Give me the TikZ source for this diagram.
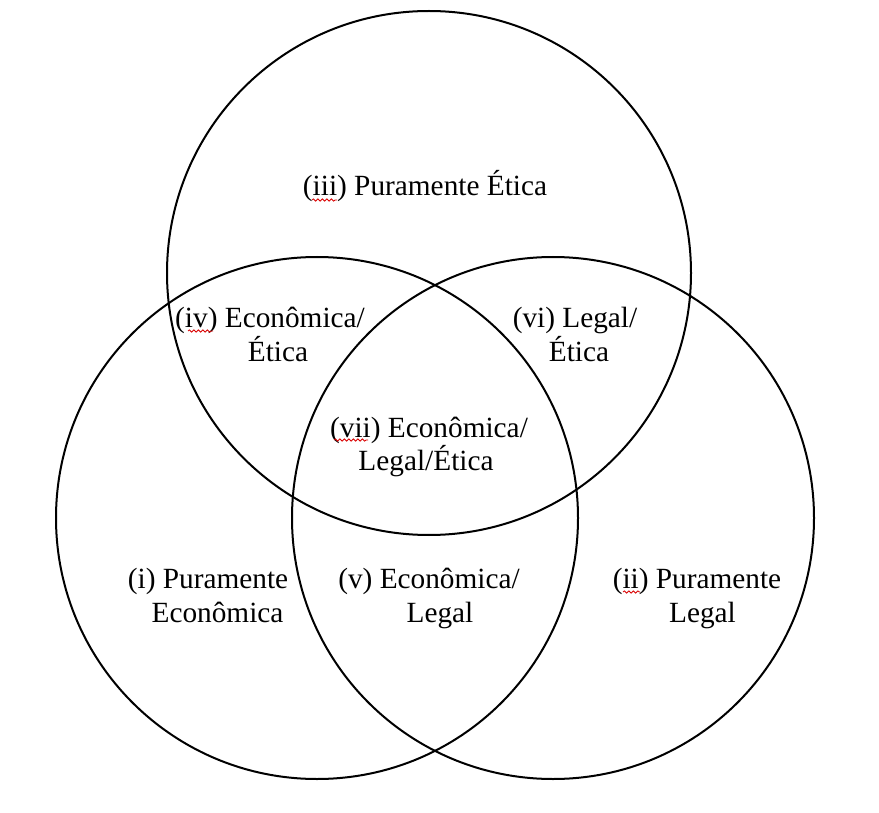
\documentclass[tikz,border=0pt]{standalone}
\usepackage{fontspec}
\setmainfont{Liberation Serif}
\usetikzlibrary{decorations.pathmorphing}
\begin{document}
\begin{tikzpicture}[x=1pt,y=-1pt,
  ring/.style={draw=black,line width=2pt},
  lbl/.style={anchor=base,inner sep=0pt,font=\fontsize{29.3}{34}\selectfont},
  squig/.style={draw=red!85!black,line width=0.8pt,decorate,decoration={snake,amplitude=1.1pt,segment length=4.5pt}}]
\useasboundingbox (0,0) rectangle (879,813);
\draw[ring] (429,273) circle[radius=262];
\draw[ring] (317,518) circle[radius=261];
\draw[ring] (553,518) circle[radius=261];

\node[lbl] (iii) at (425,196) {(iii) Puramente Ética};
\node[lbl] (iv1) at (270,328) {(iv) Econômica/};
\node[lbl] (iv2) at (278,361) {Ética};
\node[lbl] (vi1) at (575,328) {(vi) Legal/};
\node[lbl] (vi2) at (579,361) {Ética};
\node[lbl] (vii1) at (429,437) {(vii) Econômica/};
\node[lbl] (vii2) at (426,470) {Legal/Ética};
\node[lbl] (i1) at (208,588) {(i) Puramente};
\node[lbl] (i2) at (217.5,622) {Econômica};
\node[lbl] (v1) at (429,588) {(v) Econômica/};
\node[lbl] (v2) at (440,622) {Legal};
\node[lbl] (ii1) at (697,588) {(ii) Puramente};
\node[lbl] (ii2) at (702.5,622) {Legal};

\path[squig] (312,200) -- (337,200);
\path[squig] (188,331) -- (213,331);
\path[squig] (334,440) -- (368,440);
\path[squig] (623,592) -- (640,592);
\end{tikzpicture}
\end{document}
